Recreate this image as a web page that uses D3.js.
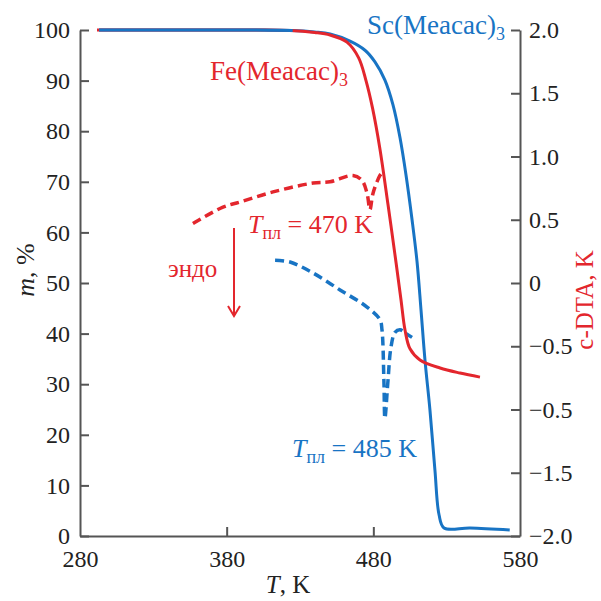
<!DOCTYPE html>
<html>
<head>
<meta charset="utf-8">
<script src="https://cdn.jsdelivr.net/npm/d3@7"></script>
<style>
  body { margin: 0; background: #fff; }
  svg text { font-family: "Liberation Serif", "Times New Roman", Times, serif !important; }
</style>
</head>
<body>
<div id="chart"></div>
<script>
// TG curves (T in K, mass in %)
var scT = [293, 350, 400, 425, 440, 450.5, 464.1, 474.3, 481.1, 487.9, 493.4, 498.2, 502.3, 506.4, 509.8, 512.5, 515.2, 518.6, 522.0, 524.8, 528.2, 546, 573];
var scM = [100, 100, 100, 99.9, 99.6, 99.2, 97.8, 96.0, 93.7, 90.1, 85.2, 78.7, 71.3, 62.5, 54.2, 44.7, 34.8, 24.9, 13.0, 4.2, 1.6, 1.6, 1.2];

var feT = [291.6, 350, 400, 423, 440, 450.5, 462, 470, 475, 479.5, 484.5, 490, 495.5, 498.9, 501.6, 505, 511.8, 525.5, 539.1, 552.7];
var feM = [100, 100, 100, 99.9, 99.5, 99.0, 97.6, 94.5, 90.0, 84.5, 76.5, 65.5, 54.0, 46.6, 40.7, 37.0, 34.8, 33.2, 32.2, 31.4];

// c-DTA curves (T in K, signal in K)
var feDtaT = [357, 377.5, 389.1, 411.6, 438.9, 450.5, 466.1, 472.3, 475.7, 477.7, 479.8, 484.5, 486.6];
var feDta = [0.47, 0.60, 0.64, 0.72, 0.79, 0.80, 0.85, 0.81, 0.71, 0.58, 0.71, 0.85, 0.88];

var scDtaT = [413, 423.2, 438.9, 457.3, 475.7, 484.5, 485.9, 487.2, 487.9, 490, 492, 494.8, 498.2, 502.3, 506.4];
var scDta = [0.18, 0.166, 0.079, -0.055, -0.19, -0.29, -0.37, -0.77, -1.07, -0.77, -0.51, -0.39, -0.37, -0.40, -0.43];

// tick values and labels
var xTicks = [280, 380, 480, 580];
var yTicks = [0, 10, 20, 30, 40, 50, 60, 70, 80, 90, 100];
var y2Ticks = [2, 1.5, 1, 0.5, 0, -0.5, -1, -1.5, -2];
var y2Labels = ["2.0", "1.5", "1.0", "0.5", "0", "\u22120.5", "\u22120.5", "\u22121.5", "\u22122.0"];

var blue = "#1874c4",
    red = "#e3262d",
    axisColor = "#555";

var margin = {top: 30, right: 81, bottom: 65, left: 80},
    width = 601 - margin.left - margin.right,
    height = 601 - margin.top - margin.bottom;

var svg = d3.select("#chart")
    .append("svg")
    .attr("width", 601)
    .attr("height", 601)
    .append("g")
    .attr("transform", "translate(" + margin.left + "," + margin.top + ")");

var x = d3.scaleLinear().domain([280, 580]).range([0, width]);
var y = d3.scaleLinear().domain([0, 100]).range([height, 0]);
var y2 = d3.scaleLinear().domain([-2, 2]).range([height, 0]);

// axes
var xAxis = svg.append("g")
    .attr("transform", "translate(0," + height + ")")
    .call(d3.axisBottom(x).tickValues(xTicks).tickSizeInner(-9).tickSizeOuter(0));

var yAxis = svg.append("g")
    .call(d3.axisLeft(y).tickValues(yTicks).tickSizeInner(-9).tickSizeOuter(0));

var y2Axis = svg.append("g")
    .attr("transform", "translate(" + width + ",0)")
    .call(d3.axisRight(y2).tickValues(y2Ticks).tickSizeInner(-9).tickSizeOuter(0)
        .tickFormat(function (d, i) { return y2Labels[i]; }));

[xAxis, yAxis, y2Axis].forEach(function (a) {
    a.select(".domain").attr("stroke", axisColor).attr("stroke-width", 2);
    a.selectAll(".tick line").attr("stroke", axisColor).attr("stroke-width", 2);
    a.selectAll(".tick text")
        .style("font-size", "24px")
        .attr("fill", "#222");
});
// corner ticks on the x axis sit on the frame
xAxis.selectAll(".tick line").filter(function (d) { return d === 280 || d === 580; }).remove();
xAxis.selectAll(".tick text").attr("y", 14).attr("dy", "0.71em");
yAxis.selectAll(".tick text").attr("x", -10);
y2Axis.selectAll(".tick text").attr("x", 9).attr("text-anchor", "start");

// lines
var lineTG = d3.line()
    .x(function (d) { return x(d[0]); })
    .y(function (d) { return y(d[1]); })
    .curve(d3.curveCatmullRom.alpha(0.5));

var lineDTA = d3.line()
    .x(function (d) { return x(d[0]); })
    .y(function (d) { return y2(d[1]); })
    .curve(d3.curveCatmullRom.alpha(0.5));

svg.append("path")
    .datum(d3.zip(feDtaT, feDta))
    .attr("d", lineDTA)
    .attr("fill", "none")
    .attr("stroke", red)
    .attr("stroke-width", 3.5)
    .attr("stroke-dasharray", "9,5");

svg.append("path")
    .datum(d3.zip(scDtaT, scDta))
    .attr("d", lineDTA)
    .attr("fill", "none")
    .attr("stroke", blue)
    .attr("stroke-width", 3.5)
    .attr("stroke-dasharray", "9,5");

svg.append("path")
    .datum(d3.zip(scT, scM))
    .attr("d", lineTG)
    .attr("fill", "none")
    .attr("stroke", blue)
    .attr("stroke-width", 3);

svg.append("path")
    .datum(d3.zip(feT, feM))
    .attr("d", lineTG)
    .attr("fill", "none")
    .attr("stroke", red)
    .attr("stroke-width", 3);

// blue on top along the shared 100% plateau
svg.append("path")
    .datum(d3.zip(scT.slice(0, 4), scM.slice(0, 4)))
    .attr("d", lineTG)
    .attr("fill", "none")
    .attr("stroke", blue)
    .attr("stroke-width", 3);

// labels (page coordinates)
var root = d3.select("svg");

function subLabel(px, py, size, main, sub, rest, color, italicMain) {
    var t = root.append("text")
        .attr("x", px).attr("y", py)
        .attr("fill", color)
        .style("font-size", size + "px");
    t.append("tspan").text(main).style("font-style", italicMain ? "italic" : "normal");
    t.append("tspan").text(sub).attr("dy", 6).style("font-size", Math.round(size * 0.68) + "px");
    if (rest) t.append("tspan").text(rest).attr("dy", -6);
    return t;
}

subLabel(367, 34, 27, "Sc(Meacac)", "3", null, blue, false);
subLabel(210, 80, 27, "Fe(Meacac)", "3", null, red, false);
subLabel(248, 233, 26, "T", "пл", " = 470 K", red, true);
subLabel(292, 457, 26, "T", "пл", " = 485 K", blue, true);

root.append("text")
    .attr("x", 168).attr("y", 277)
    .attr("fill", red)
    .style("font-size", "25px")
    .text("эндо");

// endo arrow
root.append("line")
    .attr("x1", 234).attr("y1", 228).attr("x2", 234).attr("y2", 316)
    .attr("stroke", red).attr("stroke-width", 2);
root.append("path")
    .attr("d", "M228,306 L234,316 L240,306")
    .attr("fill", "none").attr("stroke", red).attr("stroke-width", 2);

// axis titles
var xt = root.append("text")
    .attr("x", 288).attr("y", 593)
    .attr("text-anchor", "middle")
    .attr("fill", "#222")
    .style("font-size", "25px");
xt.append("tspan").text("T").style("font-style", "italic");
xt.append("tspan").text(", K");

var yt = root.append("text")
    .attr("transform", "translate(34,270) rotate(-90)")
    .attr("text-anchor", "middle")
    .attr("fill", "#222")
    .style("font-size", "26px");
yt.append("tspan").text("m").style("font-style", "italic");
yt.append("tspan").text(", %");

root.append("text")
    .attr("transform", "translate(593,300) rotate(-90)")
    .attr("text-anchor", "middle")
    .attr("fill", red)
    .style("font-size", "25px")
    .text("c-DTA, K");
</script>
</body>
</html>
